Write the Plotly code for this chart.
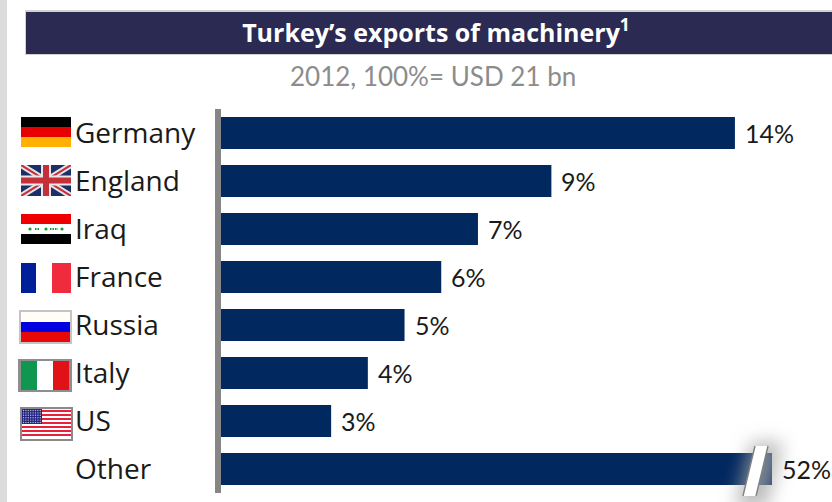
import base64
import plotly.graph_objects as go

countries = ["Germany", "England", "Iraq", "France", "Russia", "Italy", "US", "Other"]
shares = [14, 9, 7, 6, 5, 4, 3, 52]
share_labels = ["14%", "9%", "7%", "6%", "5%", "4%", "3%", "52%"]

WIDTH, HEIGHT = 832, 502
NAVY = "#01285F"
FONT = "Lato"
NAME_FONT = "Open Sans"
X_MAX = 15.01  # the axis stops here, so the 52% bar runs past it and is cut off


def px(x):
    return x / WIDTH


def py(y):
    return 1 - y / HEIGHT


def svg_uri(w, h, body):
    svg = (f'<svg xmlns="http://www.w3.org/2000/svg" width="{w}" height="{h}" '
           f'viewBox="0 0 {w} {h}" preserveAspectRatio="none">{body}</svg>')
    return "data:image/svg+xml;base64," + base64.b64encode(svg.encode()).decode()


def flag_germany():
    return svg_uri(50, 30, '<rect width="50" height="10"/>'
                   '<rect y="10" width="50" height="10" fill="#E80000"/>'
                   '<rect y="20" width="50" height="10" fill="#FFB000"/>')


def flag_england():
    return svg_uri(50, 31, '<rect width="50" height="31" fill="#1B2F6B"/>'
                   '<path d="M0 0L50 31M50 0L0 31" stroke="#E8E4E4" stroke-width="6"/>'
                   '<path d="M0 0L50 31M50 0L0 31" stroke="#C4303A" stroke-width="2"/>'
                   '<path d="M25 0V31M0 15.5H50" stroke="#EDE6E6" stroke-width="10"/>'
                   '<path d="M25 0V31M0 15.5H50" stroke="#C4303A" stroke-width="6"/>')


def flag_iraq():
    stars = "".join(f'<circle cx="{x}" cy="15" r="1.6" fill="#12A02A"/>' for x in (9, 25, 41))
    return svg_uri(50, 30, '<rect width="50" height="10" fill="#EE0000"/>'
                   '<rect y="10" width="50" height="10" fill="#fff"/>'
                   '<rect y="20" width="50" height="10"/>' + stars +
                   '<path d="M14 15h5M29 15h8" stroke="#12A02A" stroke-width="2" '
                   'stroke-dasharray="1.5 1"/>')


def flag_france():
    return svg_uri(50, 30, '<rect width="15" height="30" fill="#00209A"/>'
                   '<rect x="31" width="19" height="30" fill="#EF2B3D"/>')


def flag_russia():
    return svg_uri(53, 34, '<rect width="53" height="34" fill="#C4C4C4"/>'
                   '<rect x="2" y="2" width="49" height="10" fill="#FFFDF6"/>'
                   '<rect x="2" y="12" width="49" height="10" fill="#0000E0"/>'
                   '<rect x="2" y="22" width="49" height="10" fill="#E80808"/>')


def flag_italy():
    return svg_uri(54, 33, '<rect width="54" height="33" fill="#8E8E8E"/>'
                   '<rect x="3" y="2" width="16" height="29" fill="#109650"/>'
                   '<rect x="19" y="2" width="16" height="29" fill="#fff"/>'
                   '<rect x="35" y="2" width="16" height="29" fill="#E01218"/>')


def flag_us():
    stripes = "".join(f'<rect x="2" y="{3 + i * 4}" width="49" height="2" fill="#E8203C"/>'
                      for i in range(7))
    dots = "".join(f'<circle cx="{3.5 + c * 2.4:.1f}" cy="{3.5 + r * 2.4:.1f}" r="0.7" fill="#B8B8E0"/>'
                   for r in range(6) for c in range(8))
    return svg_uri(53, 34, '<rect width="53" height="34" fill="#8A8A8A"/>'
                   '<rect x="2" y="2" width="49" height="30" fill="#fff"/>' + stripes +
                   '<rect x="2" y="2" width="20" height="15" fill="#23237E"/>' + dots)


# left, top, width, height of every flag image
flags = [
    (flag_germany(), 21, 117, 50, 30),
    (flag_england(), 21, 165, 50, 31),
    (flag_iraq(), 21, 214, 50, 30),
    (flag_france(), 21, 263, 50, 30),
    (flag_russia(), 19, 310, 53, 34),
    (flag_italy(), 18, 359, 54, 33),
    (flag_us(), 20, 407, 53, 34),
]

# Axis-break slash with its soft halo, centred where the long bar is cut
break_mark = svg_uri(
    120, 110,
    '<defs><filter id="b" x="-150%" y="-100%" width="400%" height="300%">'
    '<feGaussianBlur stdDeviation="9"/></filter></defs>'
    '<path d="M46 22L78 22L62 88L30 88Z" fill="#A6A6A6" fill-opacity="0.75" filter="url(#b)"/>'
    '<path d="M50 26L63 26L51 76L38 76Z" fill="#fff"/>'
    '<path d="M50 26L38 76M63 26L51 76" stroke="#808080" stroke-width="1.4" fill="none"/>',
)

images = [
    dict(source=src, xref="paper", yref="paper", x=px(x), y=py(y),
         sizex=w / WIDTH, sizey=h / HEIGHT, xanchor="left", yanchor="top",
         sizing="stretch", layer="above")
    for src, x, y, w, h in flags
]
images.append(dict(source=break_mark, xref="paper", yref="paper", x=px(705), y=py(420),
                   sizex=120 / WIDTH, sizey=110 / HEIGHT, xanchor="left", yanchor="top",
                   sizing="stretch", layer="above"))

fig = go.Figure(go.Bar(x=shares, y=countries, orientation="h",
                       marker=dict(color=NAVY, line_width=0), hoverinfo="skip"))

annotations = []
for name, value, label in zip(countries, shares, share_labels):
    annotations.append(dict(x=px(73), xref="paper", y=name, yref="y", text=name,
                            xanchor="left", showarrow=False, align="left", yshift=1,
                            font=dict(family=NAME_FONT, size=28, color="#1A1A1A")))
    annotations.append(dict(x=min(value, X_MAX), xref="x", y=name, yref="y", text=label,
                            xanchor="left", showarrow=False, xshift=8,
                            font=dict(family=FONT, size=25, color="#1A1A1A")))
annotations.append(dict(x=px(433), xref="paper", y=py(76), yref="paper", yanchor="middle",
                        text="2012, 100%= USD 21 bn", showarrow=False,
                        font=dict(family=FONT, size=26, color="#8C8C8C")))

fig.update_layout(
    width=WIDTH, height=HEIGHT, autosize=False,
    margin=dict(l=0, r=0, t=0, b=0),
    paper_bgcolor="white", plot_bgcolor="white",
    showlegend=False, bargap=1 / 3,
    title=dict(text="Turkey’s exports of machinery<sup>1</sup>",
               x=px(436), xanchor="center", xref="paper",
               y=py(33), yanchor="middle", yref="paper",
               font=dict(family=NAME_FONT, size=25, color="white", weight="bold")),
    xaxis=dict(domain=[px(221), px(772)], range=[0, X_MAX], visible=False),
    yaxis=dict(domain=[py(493), py(109)], type="category", autorange=False,
               categoryorder="array", categoryarray=countries, range=[7.5, -0.5],
               showline=True, linecolor="#868686", linewidth=6, mirror=False,
               showticklabels=False, ticks="", showgrid=False, zeroline=False),
    images=images,
    annotations=annotations,
    shapes=[
        dict(type="rect", xref="paper", yref="paper", x0=0, x1=px(7), y0=0, y1=1,
             fillcolor="#DCDCDC", line_width=0, layer="below"),
        dict(type="rect", xref="paper", yref="paper", x0=px(25), x1=1, y0=py(55), y1=py(10),
             fillcolor="#D2D2D2", line_width=0, layer="below"),
        dict(type="rect", xref="paper", yref="paper", x0=px(26), x1=1, y0=py(54), y1=py(12),
             fillcolor="#2A2A52", line_width=0, layer="below"),
    ],
)

fig.write_html("out.html", config=dict(displayModeBar=False))
